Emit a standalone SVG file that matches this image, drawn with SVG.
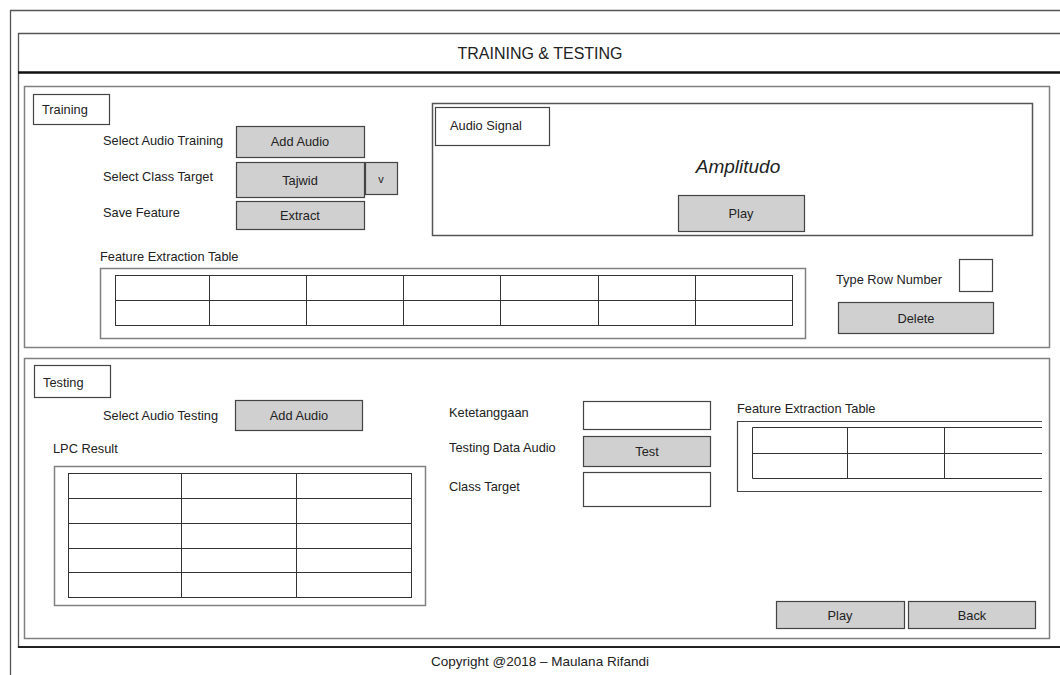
<svg xmlns="http://www.w3.org/2000/svg" width="1060" height="675" viewBox="0 0 1060 675">
<style>
text{font-family:"Liberation Sans",Arial,sans-serif;font-size:12.8px;fill:#222}
.c{text-anchor:middle}
.panel{fill:#fff;stroke:#808080;stroke-width:1.5}
.box{fill:#fff;stroke:#444;stroke-width:1.2}
.btn{fill:#d0d0d0;stroke:#444;stroke-width:1.2}
.grid{fill:none;stroke:#333;stroke-width:1}
.frame{fill:none;stroke:#555;stroke-width:1.3}
</style>
<rect width="1060" height="675" fill="#fff"/>
<g id="frame">
<path class="frame" d="M1060,10.5 H10.5 V675"/>
<path class="frame" d="M1060,33.5 H18.5 V648"/>
<line x1="18" y1="72.5" x2="1060" y2="72.5" stroke="#111" stroke-width="2.5"/>
<line x1="18" y1="647" x2="1060" y2="647" stroke="#222" stroke-width="2"/>
<text class="c" x="540" y="59" style="font-size:16px">TRAINING &amp; TESTING</text>
<text class="c" x="540" y="666" style="font-size:13.5px">Copyright @2018 – Maulana Rifandi</text>
</g>
<g id="training">
<rect class="panel" x="24.5" y="86.5" width="1025" height="261"/>
<rect class="box" x="33.5" y="94.5" width="76" height="30"/>
<text x="42" y="114">Training</text>
<text x="103" y="145">Select Audio Training</text>
<rect class="btn" x="236.5" y="126.5" width="128" height="31"/>
<text class="c" x="300" y="146">Add Audio</text>
<text x="103" y="181">Select Class Target</text>
<rect class="btn" x="236.5" y="162.5" width="128" height="35"/>
<text class="c" x="300" y="185">Tajwid</text>
<rect class="btn" x="365.5" y="162.5" width="32" height="32"/>
<text class="c" x="381" y="183" style="font-size:11px">v</text>
<text x="103" y="217">Save Feature</text>
<rect class="btn" x="236.5" y="201.5" width="128" height="28"/>
<text class="c" x="300" y="220">Extract</text>
<text x="100" y="261">Feature Extraction Table</text>
<rect class="panel" x="100.5" y="268.5" width="705" height="70"/>
<g class="grid">
<rect x="115.5" y="275.5" width="677" height="50"/>
<line x1="115" y1="300.5" x2="792" y2="300.5"/>
<line x1="209.5" y1="275" x2="209.5" y2="325"/>
<line x1="306.5" y1="275" x2="306.5" y2="325"/>
<line x1="403.5" y1="275" x2="403.5" y2="325"/>
<line x1="500.5" y1="275" x2="500.5" y2="325"/>
<line x1="598.5" y1="275" x2="598.5" y2="325"/>
<line x1="695.5" y1="275" x2="695.5" y2="325"/>
</g>
<text x="836" y="284">Type Row Number</text>
<rect class="box" x="959.5" y="259.5" width="33" height="32"/>
<rect class="btn" x="838.5" y="302.5" width="155" height="31"/>
<text class="c" x="916" y="323">Delete</text>
</g>
<g id="audio-signal">
<rect class="panel" x="432.5" y="103.5" width="600" height="132" style="stroke:#555"/>
<rect class="box" x="435.5" y="107.5" width="114" height="38"/>
<text x="450" y="130">Audio Signal</text>
<text class="c" x="738" y="173" style="font-size:19px;font-style:italic">Amplitudo</text>
<rect class="btn" x="678.5" y="195.5" width="126" height="36"/>
<text class="c" x="741" y="218">Play</text>
</g>
<g id="testing">
<rect class="panel" x="24.5" y="358.5" width="1025" height="280"/>
<rect class="box" x="34.5" y="365.5" width="76" height="32"/>
<text x="43" y="387">Testing</text>
<text x="103" y="420">Select Audio Testing</text>
<rect class="btn" x="235.5" y="400.5" width="127" height="30"/>
<text class="c" x="299" y="420">Add Audio</text>
<text x="53" y="453">LPC Result</text>
<rect class="panel" x="54.5" y="466.5" width="371" height="139"/>
<g class="grid">
<rect x="68.5" y="473.5" width="343" height="124"/>
<line x1="68" y1="498.5" x2="411" y2="498.5"/>
<line x1="68" y1="523.5" x2="411" y2="523.5"/>
<line x1="68" y1="548.5" x2="411" y2="548.5"/>
<line x1="68" y1="572.5" x2="411" y2="572.5"/>
<line x1="181.5" y1="473" x2="181.5" y2="597"/>
<line x1="296.5" y1="473" x2="296.5" y2="597"/>
</g>
<text x="449" y="417">Ketetanggaan</text>
<rect class="box" x="583.5" y="401.5" width="127" height="28"/>
<text x="449" y="452">Testing Data Audio</text>
<rect class="btn" x="583.5" y="436.5" width="127" height="30"/>
<text class="c" x="647" y="456">Test</text>
<text x="449" y="491">Class Target</text>
<rect class="box" x="583.5" y="472.5" width="127" height="34"/>
<text x="737" y="413">Feature Extraction Table</text>
<path d="M1042,421.5 H737.5 V491.5 H1042" fill="none" stroke="#444" stroke-width="1.2"/>
<g class="grid">
<path d="M1042,427.5 H752.5 V478.5 H1042"/>
<line x1="752" y1="453.5" x2="1042" y2="453.5"/>
<line x1="847.5" y1="427" x2="847.5" y2="478"/>
<line x1="944.5" y1="427" x2="944.5" y2="478"/>
</g>
<rect class="btn" x="776.5" y="601.5" width="128" height="27"/>
<text class="c" x="840" y="620">Play</text>
<rect class="btn" x="908.5" y="601.5" width="127" height="27"/>
<text class="c" x="972" y="620">Back</text>
</g>
</svg>
